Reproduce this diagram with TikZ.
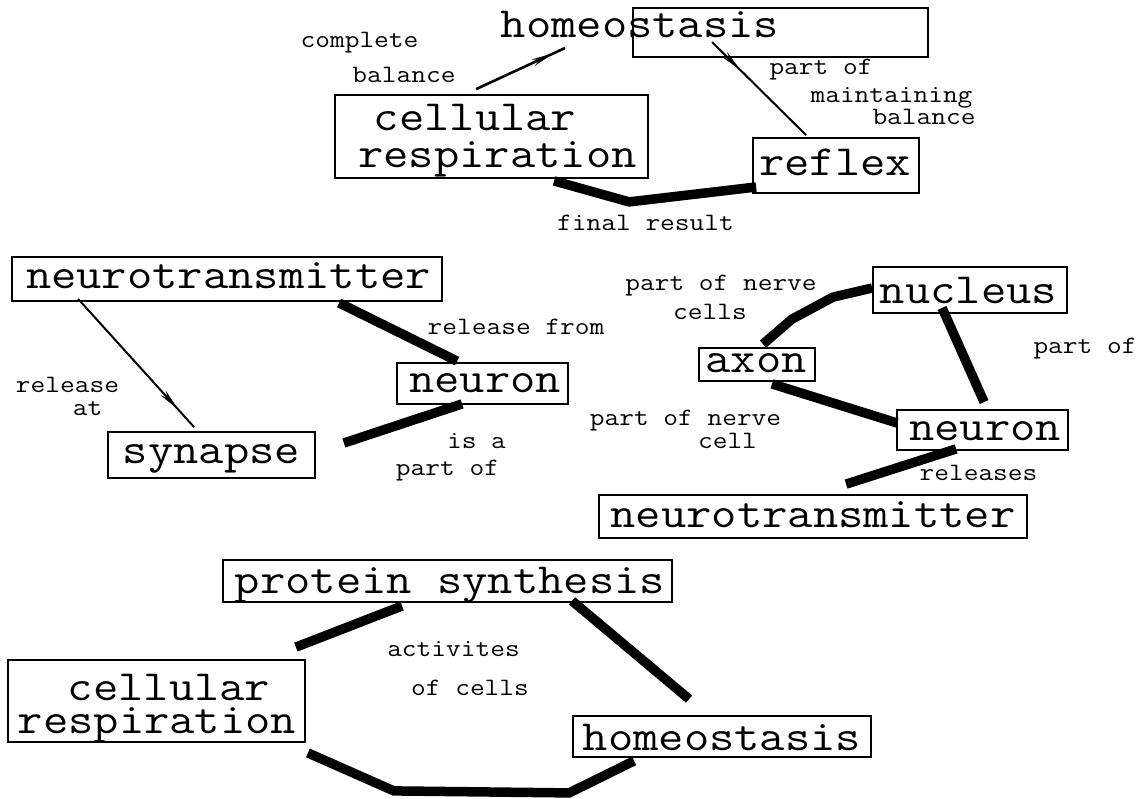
\documentclass[tikz,border=0pt]{standalone}
\usepackage{fontspec}
\usepackage{graphicx}
\usetikzlibrary{calc,arrows.meta,decorations.markings}
% typewriter glyphs widened to a Courier-like advance
\newcommand\mywide[1]{\scalebox{1.143}[1]{#1}}

\begin{document}
\begin{tikzpicture}[x=1pt,y=-1pt,
  box/.style={draw, line width=1.8pt, inner sep=0pt},
  big/.style={font=\ttfamily\fontsize{43}{43}\selectfont, inner sep=0pt, anchor=base},
  lbl/.style={font=\ttfamily\fontsize{25}{25}\selectfont, inner sep=0pt, anchor=base},
  heavy/.style={line width=9.5pt},
  wedgeline/.style={line width=2pt,
    decoration={markings, mark=at position #1 with {\arrow{Stealth[length=22pt,width=7pt]}}},
    postaction=decorate}]
\useasboundingbox (0,0) rectangle (1143,798);

% ---------- top group ----------
\node[box, minimum width=295pt, minimum height=49pt] (hsTbox) at (780.5,32.5) {};
\node[big] (hsT) at (640,37) {\mywide{homeostasis}};
\node[box, minimum width=313pt, minimum height=83pt] (crT) at (491.5,136.5) {};
\node[big] (crT1) at (475,130) {\mywide{cellular}};
\node[big] (crT2) at (497.5,167) {\mywide{respiration}};
\node[box, minimum width=166pt, minimum height=55pt] (rf) at (836,165.5) {};
\node[big] (rfT) at (835,175) {\mywide{reflex}};

\node[lbl] (l1) at (359.5,47) {\mywide{complete}};
\node[lbl] (l2) at (404,82) {\mywide{balance}};
\node[lbl] (l3) at (821,74) {\mywide{part of}};
\node[lbl] (l4) at (891.5,102) {\mywide{maintaining}};
\node[lbl] (l5) at (924,124) {\mywide{balance}};
\node[lbl] (l6) at (645.5,230) {\mywide{final result}};

\draw[wedgeline=0.87, line width=2.6pt] ($(crT.north west)+(142,-5)$) -- ($(hsT.base)+(-75,11)$);
\draw[wedgeline=0.3] ($(hsTbox.north west)+(80,35)$) -- ($(rf.north west)+(54,-2)$);
\draw[heavy] ($(crT.south west)+(220,2)$) -- ($(crT.south west)+(295,23)$) -- ($(rf.west)+(4,21.5)$);

% ---------- middle left group ----------
\node[box, minimum width=430pt, minimum height=44pt] (ntL) at (227,279) {};
\node[big] (ntLT) at (228.5,288) {\mywide{neurotransmitter}};
\node[box, minimum width=171pt, minimum height=41pt] (nrL) at (482.5,383.5) {};
\node[big] (nrLT) at (485,392) {\mywide{neuron}};
\node[box, minimum width=207pt, minimum height=46pt] (syn) at (211.5,455) {};
\node[big] (synT) at (211.5,463) {\mywide{synapse}};

\node[lbl] (m1) at (516,334) {\mywide{release from}};
\node[lbl] (m2) at (67.5,392) {\mywide{release}};
\node[lbl] (m3) at (87.5,415) {\mywide{at}};
\node[lbl] (m4) at (476.5,448) {\mywide{is a}};
\node[lbl] (m5) at (447.5,475) {\mywide{part of}};

\draw[wedgeline=0.86] ($(ntL.south west)+(67,-3)$) -- ($(syn.north west)+(87,-4)$);
\draw[heavy] ($(ntL.south west)+(328,1)$) -- ($(nrL.north west)+(61,-1)$);
\draw[heavy] ($(nrL.south west)+(66,-1)$) -- ($(syn.east)+(28,-12)$);

% ---------- middle right group ----------
\node[box, minimum width=194pt, minimum height=46pt] (nuc) at (970,290) {};
\node[big] (nucT) at (968.5,303) {\mywide{nucleus}};
\node[box, minimum width=116pt, minimum height=33pt] (ax) at (757,364.5) {};
\node[big] (axT) at (756,372) {\mywide{axon}};
\node[box, minimum width=171pt, minimum height=40pt] (nrR) at (982.5,430) {};
\node[big] (nrRT) at (985,440) {\mywide{neuron}};
\node[box, minimum width=428pt, minimum height=43pt] (ntR) at (813,516.5) {};
\node[big] (ntRT) at (813,527) {\mywide{neurotransmitter}};

\node[lbl] (r1) at (721,290) {\mywide{part of nerve}};
\node[lbl] (r2) at (710,319) {\mywide{cells}};
\node[lbl] (r3) at (1085,353) {\mywide{part of}};
\node[lbl] (r4) at (685.5,425) {\mywide{part of nerve}};
\node[lbl] (r5) at (727.5,448) {\mywide{cell}};
\node[lbl] (r6) at (978.5,480) {\mywide{releases}};

\draw[heavy] ($(ax.north)+(6,-3)$) -- ($(ax.north)+(35,-28)$) -- ($(ax.north)+(76,-50)$) -- ($(nuc.west)+(0,-2)$);
\draw[heavy] ($(nuc.south west)+(70,-6)$) -- ($(nrR.north west)+(88,-7)$);
\draw[heavy] ($(ax.south)+(15,2)$) -- ($(nrR.west)+(1,-7)$);
\draw[heavy] ($(nrR.south west)+(60,-2)$) -- ($(ntR.north west)+(248,-10)$);

% ---------- bottom group ----------
\node[box, minimum width=449pt, minimum height=42pt] (ps) at (447.5,581) {};
\node[big] (psT) at (450,593) {\mywide{protein synthesis}};
\node[box, minimum width=297pt, minimum height=82pt] (crB) at (156.5,701) {};
\node[big] (crB1) at (169,700) {\mywide{cellular}};
\node[big] (crB2) at (157,733) {\mywide{respiration}};
\node[box, minimum width=298pt, minimum height=41pt] (hsB) at (722,736.5) {};
\node[big] (hsBT) at (722,750) {\mywide{homeostasis}};

\node[lbl] (b1) at (453.5,656) {\mywide{activites}};
\node[lbl] (b2) at (470,695) {\mywide{of cells}};

\draw[heavy] ($(ps.south west)+(180,3)$) -- ($(crB.north east)+(-10,-12)$);
\draw[heavy] ($(ps.south west)+(350,-2)$) -- ($(hsB.north west)+(117,-16)$);
\draw[heavy] ($(crB.south east)+(2,10)$) -- ($(crB.south east)+(88,48)$) -- ($(hsB.south west)+(-3,35)$) -- ($(hsB.south west)+(62,3)$);
\end{tikzpicture}
\end{document}
